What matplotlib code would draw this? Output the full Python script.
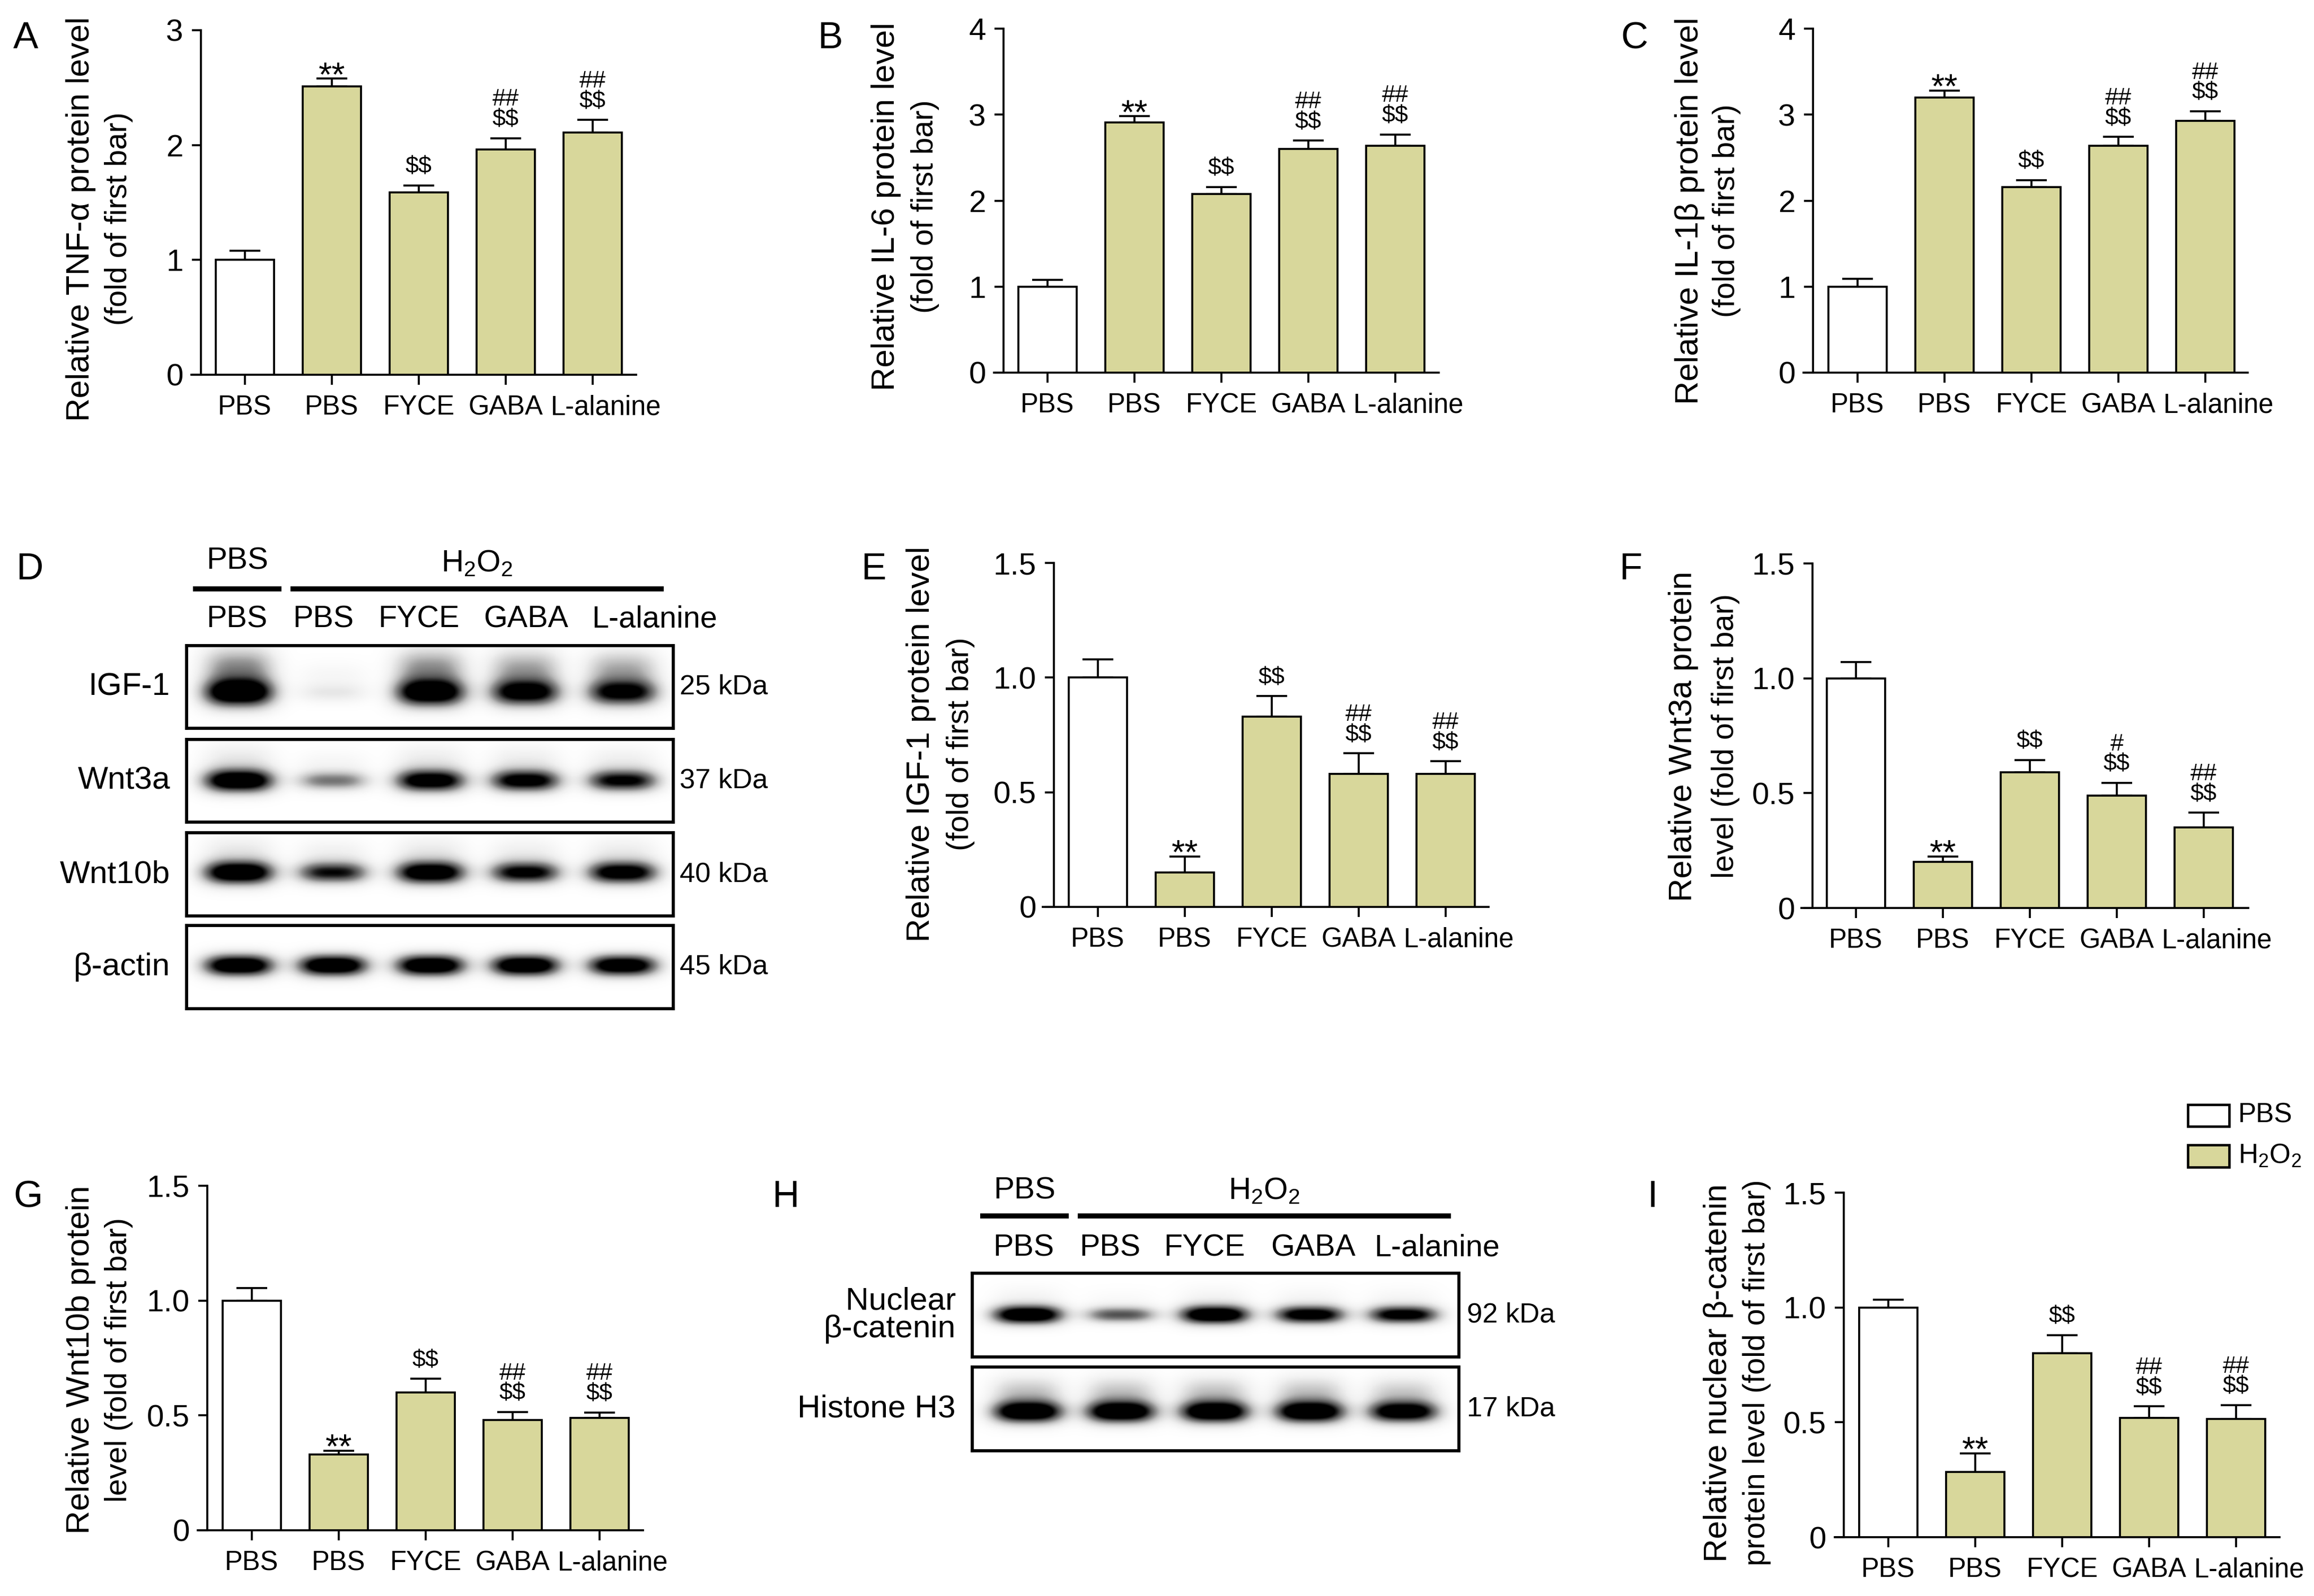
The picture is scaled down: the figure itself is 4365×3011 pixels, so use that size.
import numpy as np
import matplotlib
matplotlib.use('Agg')
import matplotlib.pyplot as plt
from matplotlib.patches import Rectangle
from matplotlib.lines import Line2D
from matplotlib.transforms import ScaledTranslation

plt.rcParams['font.family'] = ['Liberation Sans', 'DejaVu Sans']
plt.rcParams['mathtext.fontset'] = 'custom'
plt.rcParams['mathtext.rm'] = 'Liberation Sans'
plt.rcParams['mathtext.it'] = 'Liberation Sans:italic'
plt.rcParams['mathtext.bf'] = 'Liberation Sans:bold'

# ---------------- data ----------------
groups = ['PBS', 'PBS', 'FYCE', 'GABA', 'L-alanine']
is_h2o2 = [False, True, True, True, True]
legend_labels = ['PBS', r'H$_\mathregular{2}$O$_\mathregular{2}$']

tnf_mean = [1.00, 2.51, 1.59, 1.96, 2.11]
tnf_err = [0.08, 0.07, 0.06, 0.10, 0.11]
tnf_sig = ['', '**', '$$', '##\n$$', '##\n$$']

il6_mean = [1.00, 2.91, 2.08, 2.60, 2.64]
il6_err = [0.08, 0.07, 0.08, 0.10, 0.13]
il6_sig = ['', '**', '$$', '##\n$$', '##\n$$']

il1b_mean = [1.00, 3.20, 2.16, 2.64, 2.93]
il1b_err = [0.09, 0.08, 0.08, 0.10, 0.11]
il1b_sig = ['', '**', '$$', '##\n$$', '##\n$$']

igf1_mean = [1.00, 0.15, 0.83, 0.58, 0.58]
igf1_err = [0.08, 0.07, 0.09, 0.09, 0.055]
igf1_sig = ['', '**', '$$', '##\n$$', '##\n$$']

wnt3a_mean = [1.00, 0.20, 0.59, 0.49, 0.35]
wnt3a_err = [0.07, 0.025, 0.055, 0.055, 0.065]
wnt3a_sig = ['', '**', '$$', '#\n$$', '##\n$$']

wnt10b_mean = [1.00, 0.33, 0.60, 0.48, 0.49]
wnt10b_err = [0.055, 0.017, 0.06, 0.035, 0.023]
wnt10b_sig = ['', '**', '$$', '##\n$$', '##\n$$']

bcat_mean = [1.00, 0.285, 0.80, 0.52, 0.515]
bcat_err = [0.035, 0.08, 0.08, 0.05, 0.06]
bcat_sig = ['', '**', '$$', '##\n$$', '##\n$$']

# western blot band intensities (relative darkness per lane)
blot_d_rows = ['IGF-1', 'Wnt3a', 'Wnt10b', 'β-actin']
blot_d_kda = ['25 kDa', '37 kDa', '40 kDa', '45 kDa']
igf1_band = [1.00, 0.12, 0.95, 0.85, 0.80]
wnt3a_band = [1.00, 0.45, 0.90, 0.85, 0.78]
wnt10b_band = [1.00, 0.72, 0.95, 0.80, 0.88]
bactin_band = [1.00, 1.00, 1.00, 1.00, 0.95]

blot_h_rows = ['Nuclear\nβ-catenin', 'Histone H3']
blot_h_kda = ['92 kDa', '17 kDa']
nbcat_band = [1.00, 0.55, 1.00, 0.88, 0.85]
h3_band = [1.00, 1.00, 1.00, 1.00, 0.92]

header_groups = ['PBS', r'H$_\mathregular{2}$O$_\mathregular{2}$']

# ---------------- layout helpers ----------------
W, H = 4365, 3011
DPI = 300
fig = plt.figure(figsize=(W / DPI, H / DPI), dpi=DPI)

KHAKI = '#D8D79B'
LW = 0.9


def fx(x):
    return x / W


def fy(y):
    return 1 - y / H


SP = 164.0  # pixel pitch between bars


def bar_panel(mean, err, sig, ymax, yticks, yticklabels, xl, xr, t0, spine,
              y0, yt, lab1, lab2, l1x, l2x, lcy, lab2_size=13.8):
    ax = fig.add_axes([fx(xl), fy(y0), (xr - xl) / W, (y0 - yt) / H])
    ax.patch.set_alpha(0)
    x = np.arange(len(groups))
    xmin = -(t0 - xl) / SP
    xmax = 4 + (xr - (t0 + 4 * SP)) / SP
    colors = [KHAKI if h else 'white' for h in is_h2o2]
    ax.bar(x, mean, width=0.67, color=colors, edgecolor='black',
           linewidth=LW, zorder=3)
    ax.errorbar(x, mean, yerr=[np.zeros(len(err)), err], fmt='none',
                ecolor='black', elinewidth=LW, capsize=7, capthick=LW,
                zorder=2)
    ax.set_xlim(xmin, xmax)
    ax.set_ylim(0, ymax)
    for s in ['top', 'right']:
        ax.spines[s].set_visible(False)
    ax.spines['left'].set_position(('data', -(t0 - spine) / SP))
    ax.spines['left'].set_linewidth(LW)
    ax.spines['bottom'].set_linewidth(LW)
    ax.set_xticks(x)
    ax.set_xticklabels(groups, fontsize=12.2)
    ax.set_yticks(yticks)
    ax.set_yticklabels(yticklabels, fontsize=14)
    ax.tick_params(axis='x', length=4.5, width=LW, pad=4.5)
    ax.tick_params(axis='y', length=4, width=LW, pad=4)
    lbl = ax.get_xticklabels()[-1]
    lbl.set_transform(lbl.get_transform() +
                      ScaledTranslation(6 / 72, 0, fig.dpi_scale_trans))
    # significance marks
    for xi, m, e, s in zip(x, mean, err, sig):
        if not s:
            continue
        top = m + e
        if s == '**':
            ax.annotate('**', (xi, top), xytext=(0, -3.3),
                        textcoords='offset points', ha='center',
                        va='baseline', fontsize=15.5, zorder=5,
                        parse_math=False)
        else:
            for k, line in enumerate(reversed(s.split('\n'))):
                ax.annotate(line, (xi, top), xytext=(0, 5.5 + 9.2 * k),
                            textcoords='offset points', ha='center',
                            va='baseline', fontsize=10.8, zorder=5,
                            parse_math=False)
    fig.text(fx(l1x), fy(lcy), lab1, rotation=90, ha='center', va='center',
             fontsize=14.8)
    fig.text(fx(l2x), fy(lcy), lab2, rotation=90, ha='center', va='center',
             fontsize=lab2_size)
    return ax


int_ticks3 = [0, 1, 2, 3]
int_ticks4 = [0, 1, 2, 3, 4]
frac_ticks = [0, 0.5, 1.0, 1.5]
frac_labels = ['0', '0.5', '1.0', '1.5']

bar_panel(tnf_mean, tnf_err, tnf_sig, 3, int_ticks3, [str(t) for t in int_ticks3],
          361, 1200, 462, 379, 707, 57,
          'Relative TNF-α protein level', '(fold of first bar)', 153, 224, 413)
bar_panel(il6_mean, il6_err, il6_sig, 4, int_ticks4, [str(t) for t in int_ticks4],
          1875, 2714, 1976, 1893, 703, 54,
          'Relative IL-6 protein level', '(fold of first bar)', 1671, 1745, 390)
bar_panel(il1b_mean, il1b_err, il1b_sig, 4, int_ticks4, [str(t) for t in int_ticks4],
          3402, 4240, 3504, 3420, 703, 54,
          'Relative IL-1β protein level', '(fold of first bar)', 3187, 3257, 398)
bar_panel(igf1_mean, igf1_err, igf1_sig, 1.5, frac_ticks, frac_labels,
          1967, 2808, 2071, 1988, 1711, 1062,
          'Relative IGF-1 protein level', '(fold of first bar)', 1737, 1812, 1404)
bar_panel(wnt3a_mean, wnt3a_err, wnt3a_sig, 1.5, frac_ticks, frac_labels,
          3398, 4241, 3501, 3419, 1713, 1063,
          'Relative Wnt3a protein', 'level (fold of first bar)', 3176, 3255, 1389)
bar_panel(wnt10b_mean, wnt10b_err, wnt10b_sig, 1.5, frac_ticks, frac_labels,
          373, 1213, 475, 391, 2887, 2237,
          'Relative Wnt10b protein', 'level (fold of first bar)', 153, 224, 2565)
bar_panel(bcat_mean, bcat_err, bcat_sig, 1.5, frac_ticks, frac_labels,
          3461, 4300, 3562, 3478, 2900, 2250,
          'Relative nuclear β-catenin', 'protein level (fold of first bar)',
          3241, 3314, 2590)


# ---------------- western blots ----------------
def band_image(intens, lane_fx, yc, sy, smear=0.0, nx=700, ny=160):
    xs = np.linspace(0, 1, nx)
    ys = np.linspace(0, 1, ny)
    X, Y = np.meshgrid(xs, ys)
    D = np.zeros_like(X)
    for I, cx in zip(intens, lane_fx):
        s = sy * (0.65 + 0.35 * I)
        px = np.exp(-np.abs((X - cx) / 0.072) ** 3)
        py = np.exp(-((Y - yc) / s) ** 2)
        if smear:
            py = py + smear * np.exp(-((Y - (yc - 1.8 * s)) / (1.4 * s)) ** 2)
        D += I * px * py
    return np.clip(D * 1.35, 0, 1)


def blot(x0, x1, rows, lane_fx, bands, kda, labels, label_x, kda_x):
    for (ytop, ybot), (intens, yc, sy, smear), k, lab in zip(rows, bands, kda, labels):
        ax = fig.add_axes([fx(x0), fy(ybot), (x1 - x0) / W, (ybot - ytop) / H])
        img = band_image(intens, lane_fx, yc, sy, smear)
        ax.imshow(img, cmap='Greys', vmin=0, vmax=1, extent=(0, 1, 0, 1),
                  origin='upper', aspect='auto', interpolation='bilinear')
        ax.set_xticks([])
        ax.set_yticks([])
        for s in ax.spines.values():
            s.set_linewidth(1.4)
        yc_px = (ytop + ybot) / 2
        fig.text(fx(label_x), fy(yc_px), lab, ha='right', va='center',
                 fontsize=14.5, linespacing=0.95)
        fig.text(fx(kda_x), fy(yc_px), k, ha='left', va='center', fontsize=12.6)


def header(pbs_line, h_line, line_y, pbs_base, h_base, lane_x, lane_base):
    fig.add_artist(Line2D([fx(pbs_line[0]), fx(pbs_line[1])], [fy(line_y)] * 2,
                          transform=fig.transFigure, color='black', lw=2.3,
                          solid_capstyle='butt'))
    fig.add_artist(Line2D([fx(h_line[0]), fx(h_line[1])], [fy(line_y)] * 2,
                          transform=fig.transFigure, color='black', lw=2.3,
                          solid_capstyle='butt'))
    fig.text(fx((pbs_line[0] + pbs_line[1]) / 2), fy(pbs_base), header_groups[0],
             ha='center', va='baseline', fontsize=14)
    fig.text(fx((h_line[0] + h_line[1]) / 2), fy(h_base), header_groups[1],
             ha='center', va='baseline', fontsize=14)
    for g, lx in zip(groups, lane_x):
        fig.text(fx(lx), fy(lane_base), g, ha='center', va='baseline', fontsize=13.8)


# Panel D
header((364, 531), (548, 1252), 1111, 1074, 1078, [447, 610, 790, 992, 1235], 1183)
blot(352, 1270,
     [(1218, 1374), (1395, 1551), (1571, 1728), (1746, 1903)],
     [0.107, 0.300, 0.501, 0.696, 0.896],
     [(igf1_band, 0.57, 0.17, 0.4), (wnt3a_band, 0.50, 0.14, 0.12),
      (wnt10b_band, 0.48, 0.14, 0.12), (bactin_band, 0.48, 0.13, 0.0)],
     blot_d_kda, blot_d_rows, 321, 1282)

# Panel H
header((1849, 2016), (2033, 2737), 2294, 2262, 2262, [1931, 2094, 2272, 2477, 2711], 2369)
blot(1834, 2752,
     [(2402, 2560), (2579, 2737)],
     [0.114, 0.305, 0.498, 0.694, 0.886],
     [(nbcat_band, 0.50, 0.11, 0.06), (h3_band, 0.54, 0.13, 0.25)],
     blot_h_kda, blot_h_rows, 1803, 2767)

# ---------------- legend (panel I) ----------------
for (ytop, ybot), fc, lab in zip([(2084, 2125), (2160, 2202)], ['white', KHAKI], legend_labels):
    fig.add_artist(Rectangle((fx(4127), fy(ybot)), (4205 - 4127) / W, (ybot - ytop) / H,
                             transform=fig.transFigure, facecolor=fc,
                             edgecolor='black', linewidth=1.1))
    fig.text(fx(4222), fy((ytop + ybot) / 2), lab, ha='left', va='center', fontsize=12.3)

# ---------------- panel letters ----------------
for letter, (lx, ly) in zip('ABCDEFGHI',
                            [(25, 40), (1542, 40), (3057, 40),
                             (30, 1042), (1624, 1042), (3054, 1042),
                             (25, 2226), (1456, 2226), (3108, 2226)]):
    fig.text(fx(lx), fy(ly), letter, ha='left', va='top', fontsize=17)

fig.savefig('out.png', dpi=DPI)
